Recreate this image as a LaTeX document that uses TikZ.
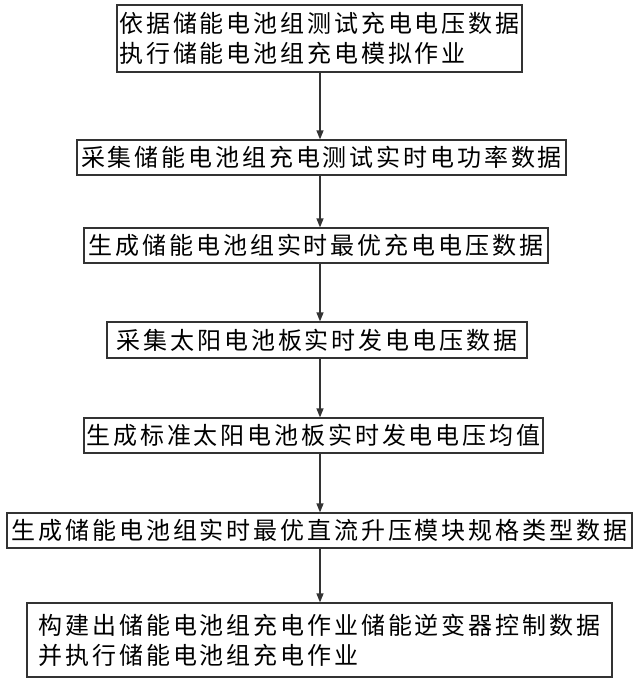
\documentclass[tikz,border=0pt]{standalone}
\usepackage{fontspec}
\setmainfont[LetterSpace=12]{Noto Sans CJK SC}
\usetikzlibrary{arrows.meta}
\begin{document}
\begin{tikzpicture}[x=1pt,y=-1pt,
 box/.style={draw=black!80,line width=1.2pt,inner sep=0pt,font=\fontsize{24}{30}\selectfont,align=left},
 arr/.style={-{Triangle[length=9pt,width=7pt]},line width=1.2pt,black!80}]
\useasboundingbox (0,0) rectangle (640,691);
\node[box,minimum width=405pt,minimum height=67pt] (b1) at (319.5,38.5) {依据储能电池组测试充电电压数据\\执行储能电池组充电模拟作业};
\node[box,minimum width=489pt,minimum height=35pt] (b2) at (321.5,157.5) {采集储能电池组充电测试实时电功率数据};
\node[box,minimum width=464pt,minimum height=35pt] (b3) at (316,245.5) {生成储能电池组实时最优充电电压数据};
\node[box,minimum width=420pt,minimum height=36pt] (b4) at (317,340) {采集太阳电池板实时发电电压数据};
\node[box,minimum width=459pt,minimum height=35pt] (b5) at (313.5,435.5) {生成标准太阳电池板实时发电电压均值};
\node[box,minimum width=625pt,minimum height=35pt] (b6) at (319.5,530.5) {生成储能电池组实时最优直流升压模块规格类型数据};
\node[box,minimum width=585pt,minimum height=74pt] (b7) at (319.5,640) {构建出储能电池组充电作业储能逆变器控制数据\\并执行储能电池组充电作业};
\foreach \a/\b in {b1/b2,b2/b3,b3/b4,b4/b5,b5/b6,b6/b7}
 \draw[arr] (\a.south -| 320,0) -- (\b.north -| 320,0);
\end{tikzpicture}
\end{document}
